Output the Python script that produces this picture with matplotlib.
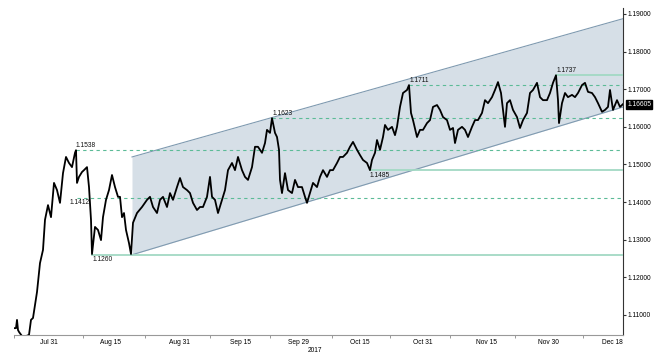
import matplotlib
matplotlib.use("Agg")
import matplotlib.pyplot as plt

# EUR/USD, bar index along x (0 = left edge of chart)
bar_idx = [
    0, 2, 3, 4, 5, 8, 12, 15, 17, 19, 21, 23, 26, 29, 31, 34, 37, 40, 43, 46,
    49, 52, 55, 58, 61, 62, 63, 65, 68, 70, 73, 75, 77, 78, 79, 81, 84, 87, 89, 92,
    95, 98, 101, 104, 106, 108, 110, 112, 115, 117, 119, 123, 128, 133, 136, 139, 143, 146, 149, 153,
    156, 159, 163, 166, 169, 173, 176, 179, 183, 186, 189, 193, 196, 198, 201, 204, 208, 211, 214, 218,
    221, 224, 228, 231, 234, 238, 241, 244, 248, 251, 253, 256, 258, 261, 263, 265, 266, 268, 271, 274,
    278, 281, 284, 288, 291, 293, 296, 299, 303, 306, 309, 313, 316, 319, 323, 326, 329, 333, 336, 339,
    343, 346, 349, 353, 356, 358, 361, 363, 366, 369, 371, 374, 378, 381, 383, 386, 389, 393, 395, 397,
    399, 403, 406, 409, 413, 416, 419, 423, 426, 429, 433, 436, 439, 441, 444, 448, 451, 454, 458, 461,
    464, 468, 471, 474, 478, 481, 484, 487, 489, 491, 493, 496, 499, 503, 506, 509, 513, 516, 519, 523,
    526, 529, 533, 536, 539, 542, 544, 545, 548, 551, 554, 558, 561, 564, 568, 571, 574, 578, 581, 584,
    588, 591, 594, 596, 599, 603, 606, 609,
]
price = [
    1.1065, 1.1065, 1.1087, 1.1060, 1.1055, 1.1044, 1.1044, 1.1047, 1.1087, 1.1092, 1.1127, 1.1161, 1.1238, 1.1273, 1.1353, 1.1392, 1.1360, 1.1451, 1.1432, 1.1398,
    1.1477, 1.1520, 1.1504, 1.1493, 1.1531, 1.1538, 1.1451, 1.1467, 1.1480, 1.1485, 1.1493, 1.1440, 1.1353, 1.1262, 1.1286, 1.1334, 1.1326, 1.1299, 1.1360, 1.1406,
    1.1432, 1.1472, 1.1440, 1.1414, 1.1414, 1.1360, 1.1371, 1.1326, 1.1291, 1.1262, 1.1345, 1.1371, 1.1387, 1.1406, 1.1414, 1.1387, 1.1371, 1.1406, 1.1414, 1.1387,
    1.1424, 1.1406, 1.1440, 1.1464, 1.1440, 1.1432, 1.1424, 1.1398, 1.1379, 1.1387, 1.1387, 1.1414, 1.1467, 1.1414, 1.1406, 1.1371, 1.1406, 1.1432, 1.1485, 1.1504,
    1.1485, 1.1520, 1.1485, 1.1467, 1.1459, 1.1493, 1.1547, 1.1547, 1.1531, 1.1557, 1.1592, 1.1584, 1.1623, 1.1584, 1.1573, 1.1539, 1.1459, 1.1424, 1.1477, 1.1432,
    1.1424, 1.1459, 1.1440, 1.1440, 1.1414, 1.1398, 1.1424, 1.1451, 1.1440, 1.1467, 1.1485, 1.1467, 1.1485, 1.1485, 1.1504, 1.1520, 1.1520, 1.1531, 1.1547, 1.1560,
    1.1539, 1.1525, 1.1512, 1.1504, 1.1485, 1.1512, 1.1531, 1.1565, 1.1539, 1.1573, 1.1605, 1.1592, 1.1600, 1.1578, 1.1600, 1.1653, 1.1690, 1.1698, 1.1711, 1.1637,
    1.1618, 1.1573, 1.1592, 1.1592, 1.1610, 1.1618, 1.1653, 1.1658, 1.1645, 1.1626, 1.1618, 1.1592, 1.1597, 1.1557, 1.1592, 1.1600, 1.1592, 1.1573, 1.1600, 1.1618,
    1.1618, 1.1637, 1.1671, 1.1663, 1.1679, 1.1698, 1.1719, 1.1690, 1.1645, 1.1600, 1.1663, 1.1671, 1.1645, 1.1626, 1.1597, 1.1618, 1.1637, 1.1690, 1.1698, 1.1717,
    1.1679, 1.1671, 1.1671, 1.1690, 1.1717, 1.1737, 1.1671, 1.1610, 1.1663, 1.1690, 1.1679, 1.1685, 1.1679, 1.1690, 1.1711, 1.1717, 1.1693, 1.1690, 1.1679, 1.1663,
    1.1640, 1.1645, 1.1653, 1.1698, 1.1645, 1.1671, 1.1653, 1.16605,
]
last_price = 1.16605

# trend channel
channel_x = [118, 609]
channel_low = [1.1260, 1.16528]
channel_high = [1.1520, 1.18875]

# support / resistance levels: value, start bar, dashed?
level_values = [1.1538, 1.1412, 1.1260, 1.1623, 1.1711, 1.1485, 1.1737]
level_start = [62, 63, 78, 258, 395, 356, 542]
level_dashed = [True, True, False, True, True, False, False]
# label positions relative to the level (above / below)
level_label_x = [62, 56, 79, 259, 396, 356, 543]
level_label_above = [True, False, False, True, True, False, True]

xtick_pos = [35, 97, 165, 227, 284, 346, 409, 472, 534, 598]
xtick_labels = ["Jul 31", "Aug 15", "Aug 31", "Sep 15", "Sep 29",
                "Oct 15", "Oct 31", "Nov 15", "Nov 30", "Dec 18"]
xminor_pos = [0, 69, 131, 196, 256, 318, 376, 436, 501, 569]
ytick_vals = [1.11, 1.12, 1.13, 1.14, 1.15, 1.16, 1.17, 1.18, 1.19]

plt.rcParams['font.family'] = ['Liberation Sans', 'DejaVu Sans']

fig = plt.figure(figsize=(6.61, 3.57), dpi=100)
ax = fig.add_axes([14 / 661, 22 / 357, 609 / 661, 327 / 357])

ax.fill_between(channel_x, channel_low, channel_high, color="#d6dfe7", lw=0, zorder=1)
ax.plot(channel_x, channel_low, color="#7f9ab0", lw=0.8, zorder=2)
ax.plot(channel_x, channel_high, color="#7f9ab0", lw=0.8, zorder=2)

for val, start, dashed, lx, above in zip(level_values, level_start, level_dashed,
                                         level_label_x, level_label_above):
    if dashed:
        ax.plot([start, 609], [val, val], color="#5cbb97", lw=0.8, ls=(0, (3, 3)), zorder=3)
    else:
        ax.plot([start, 609], [val, val], color="#a3d9c4", lw=1.3, zorder=3)
    dy = 0.0004 if above else -0.0004
    ax.text(lx, val + dy, f"{val:.4f}", fontsize=4.8, color="#111111",
            va="bottom" if above else "top", ha="left", zorder=5)

ax.plot(bar_idx, price, color="black", lw=1.3, zorder=4)

ax.set_xlim(0, 609)
ax.set_ylim(1.10468, 1.19159)

ax.set_xticks(xtick_pos)
ax.set_xticklabels(xtick_labels, fontsize=4.8)
ax.set_xticks(xminor_pos, minor=True)
ax.tick_params(axis="x", which="major", length=0, pad=3)
ax.tick_params(axis="x", which="minor", length=2, color="#888888")
ax.text(301, -0.036, "2017", transform=ax.get_xaxis_transform(), fontsize=4.8,
        ha="center", va="top")

ax.yaxis.tick_right()
ax.set_yticks(ytick_vals)
ax.set_yticklabels([f"{v:.5f}" for v in ytick_vals], fontsize=4.8)
ax.tick_params(axis="y", length=2, pad=1.5, color="#333333")

for s in ["top", "left"]:
    ax.spines[s].set_visible(False)
ax.spines["bottom"].set_color("#999999")
ax.spines["bottom"].set_linewidth(0.8)
ax.spines["right"].set_color("#333333")
ax.spines["right"].set_linewidth(0.8)

ax.annotate(f"{last_price:.5f}", xy=(1.0, last_price), xycoords=("axes fraction", "data"),
            xytext=(3, 0), textcoords="offset points", fontsize=4.8, color="white",
            va="center", ha="left",
            bbox=dict(boxstyle="square,pad=0.15", fc="black", ec="black"))

fig.savefig("out.png", dpi=100)
